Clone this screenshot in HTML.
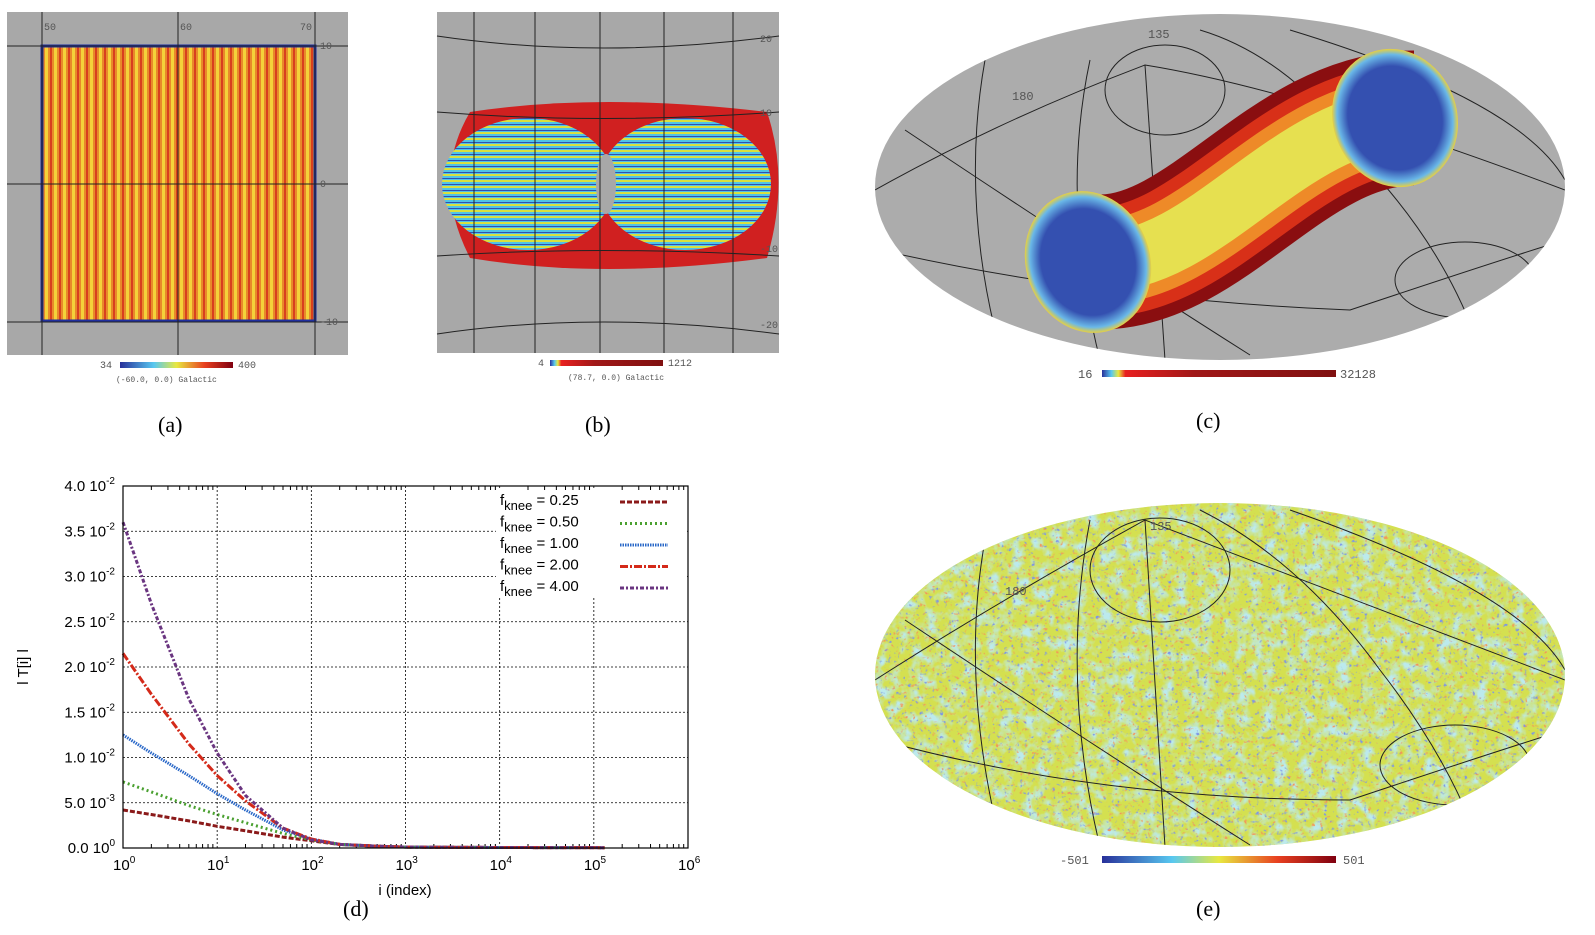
<!DOCTYPE html>
<html><head><meta charset="utf-8"><style>
body{margin:0;background:#fff;}
svg{display:block;font-family:"Liberation Sans",sans-serif;}
.cap{font-family:"Liberation Serif",serif;font-size:22px;}
.grat{fill:none;stroke:#222;stroke-width:1;}
.tick{font-family:"Liberation Mono",monospace;font-size:10px;fill:#555;}
</style></head><body>
<svg width="1595" height="935" viewBox="0 0 1595 935">
<defs>
 <pattern id="stripesA" width="9" height="9" patternUnits="userSpaceOnUse">
  <rect width="9" height="9" fill="#e88a2a"/>
  <rect x="0" width="3" height="9" fill="#f4d23a"/>
  <rect x="5" width="2" height="9" fill="#d8401e"/>
 </pattern>
 <pattern id="stripesB" width="10" height="6" patternUnits="userSpaceOnUse">
  <rect width="10" height="6" fill="#4fc3e8"/>
  <rect y="0" width="10" height="2" fill="#d8e040"/>
  <rect y="4" width="10" height="1" fill="#3050b0"/>
 </pattern>
 <linearGradient id="jet" x1="0" x2="1">
  <stop offset="0" stop-color="#28309a"/><stop offset="0.3" stop-color="#58c8f0"/>
  <stop offset="0.5" stop-color="#e8e840"/><stop offset="0.75" stop-color="#e84020"/>
  <stop offset="1" stop-color="#800010"/>
 </linearGradient>
 <linearGradient id="jetB" x1="0" x2="1">
  <stop offset="0" stop-color="#28309a"/><stop offset="0.04" stop-color="#58c8f0"/>
  <stop offset="0.07" stop-color="#e8e840"/><stop offset="0.1" stop-color="#e82020"/>
  <stop offset="0.4" stop-color="#a01818"/><stop offset="1" stop-color="#801010"/>
 </linearGradient>
 <radialGradient id="capG" cx="0.5" cy="0.5" r="0.5">
  <stop offset="0.75" stop-color="#3450b0"/><stop offset="0.92" stop-color="#6ab8e8"/><stop offset="1" stop-color="#e8d040"/>
 </radialGradient>
 <clipPath id="clipC"><ellipse cx="1220" cy="187" rx="345" ry="173"/></clipPath>
 <clipPath id="clipE"><ellipse cx="1220" cy="675" rx="345" ry="172"/></clipPath>
 <filter id="nCyan" x="0" y="0" width="100%" height="100%">
  <feTurbulence type="fractalNoise" baseFrequency="0.08" numOctaves="3" seed="3"/>
  <feColorMatrix type="matrix" values="0 0 0 0 0.5  0 0 0 0 0.82  0 0 0 0 0.85  3 0 0 0 -1.3"/>
 </filter>
 <filter id="nRed" x="0" y="0" width="100%" height="100%">
  <feTurbulence type="fractalNoise" baseFrequency="0.25" numOctaves="2" seed="5"/>
  <feColorMatrix type="matrix" values="0 0 0 0 0.9  0 0 0 0 0.3  0 0 0 0 0.1  5 0 0 0 -3.2"/>
 </filter>
 <filter id="nBlue" x="0" y="0" width="100%" height="100%">
  <feTurbulence type="fractalNoise" baseFrequency="0.25" numOctaves="2" seed="11"/>
  <feColorMatrix type="matrix" values="0 0 0 0 0.2  0 0 0 0 0.3  0 0 0 0 0.8  5 0 0 0 -3.2"/>
 </filter>
</defs>

<!-- Panel a -->
<g>
 <rect x="7" y="12" width="341" height="343" fill="#a8a8a8"/>
 <rect x="42" y="46" width="273" height="275" fill="url(#stripesA)" stroke="#2030a0" stroke-width="3"/>
 <line class="grat" x1="42" y1="12" x2="42" y2="355"/><line class="grat" x1="178" y1="12" x2="178" y2="355"/><line class="grat" x1="315" y1="12" x2="315" y2="355"/>
 <line class="grat" x1="7" y1="46" x2="348" y2="46"/><line class="grat" x1="7" y1="184" x2="348" y2="184"/><line class="grat" x1="7" y1="322" x2="348" y2="322"/>
 <text class="tick" x="320" y="49">10</text><text class="tick" x="320" y="187">0</text><text class="tick" x="320" y="325">-10</text>
 <text class="tick" x="44" y="30">50</text><text class="tick" x="180" y="30">60</text><text class="tick" x="300" y="30">70</text>
 <rect x="120" y="362" width="113" height="6" fill="url(#jet)"/>
 <text class="tick" x="100" y="368">34</text><text class="tick" x="238" y="368">400</text>
 <text class="tick" x="116" y="382" style="font-size:8px">(-60.0, 0.0) Galactic</text>
 <text class="cap" x="158" y="432">(a)</text>
</g>

<!-- Panel b -->
<g>
 <rect x="437" y="12" width="342" height="341" fill="#a8a8a8"/>
 <path d="M470,112 Q600,92 767,112 Q790,180 767,258 Q600,280 470,258 Q430,180 470,112Z" fill="#d02020"/>
 <ellipse cx="528" cy="184" rx="86" ry="66" fill="url(#stripesB)"/>
 <ellipse cx="685" cy="184" rx="86" ry="66" fill="url(#stripesB)"/>
 <ellipse cx="606" cy="184" rx="10" ry="30" fill="#a8a8a8"/>
 <path class="grat" d="M437,36 Q600,60 779,36"/><path class="grat" d="M437,112 Q600,125 779,112"/>
 <path class="grat" d="M437,256 Q600,245 779,256"/><path class="grat" d="M437,334 Q600,310 779,334"/>
 <line class="grat" x1="474" y1="12" x2="474" y2="353"/><line class="grat" x1="535" y1="12" x2="535" y2="353"/><line class="grat" x1="600" y1="12" x2="600" y2="353"/><line class="grat" x1="664" y1="12" x2="664" y2="353"/><line class="grat" x1="733" y1="12" x2="733" y2="353"/>
 <text class="tick" x="760" y="42">20</text><text class="tick" x="760" y="116">10</text><text class="tick" x="760" y="252">-10</text><text class="tick" x="760" y="328">-20</text>
 <rect x="550" y="360" width="113" height="6" fill="url(#jetB)"/>
 <text class="tick" x="538" y="366">4</text><text class="tick" x="668" y="366">1212</text>
 <text class="tick" x="568" y="380" style="font-size:8px">(78.7, 0.0) Galactic</text>
 <text class="cap" x="585" y="432">(b)</text>
</g>

<!-- Panel c -->
<g>
 <ellipse cx="1220" cy="187" rx="345" ry="173" fill="#acacac"/>
 <g clip-path="url(#clipC)">
  <path class="grat" d="M875,190 Q1000,120 1145,65 Q1300,90 1565,190"/>
  <path class="grat" d="M905,130 Q1100,260 1250,355"/>
  <path class="grat" d="M1145,65 L1165,360"/>
  <path class="grat" d="M985,60 Q960,200 1000,350"/>
  <path class="grat" d="M1090,60 Q1060,200 1100,360"/>
  <ellipse class="grat" cx="1165" cy="90" rx="60" ry="45"/>
  <path class="grat" d="M1200,30 Q1300,60 1380,180 Q1450,260 1480,350"/>
  <path class="grat" d="M1290,30 Q1520,100 1565,180"/>
  <ellipse class="grat" cx="1465" cy="280" rx="70" ry="38"/>
  <path class="grat" d="M880,250 Q1100,300 1350,310 Q1500,260 1565,240"/>
 </g>
 <text class="tick" x="1012" y="100" style="font-size:12px">180</text><text class="tick" x="1148" y="38" style="font-size:12px">135</text>
 <g>
  <path d="M1102,262 C1210,260 1290,118 1414,118" fill="none" stroke="#8a0e10" stroke-width="135"/>
  <path d="M1102,262 C1210,260 1290,118 1414,118" fill="none" stroke="#d83018" stroke-width="110"/>
  <path d="M1102,262 C1210,260 1290,118 1414,118" fill="none" stroke="#ee8a28" stroke-width="85"/>
  <path d="M1102,262 C1210,260 1290,118 1414,118" fill="none" stroke="#e6e050" stroke-width="60"/>
  <ellipse cx="1088" cy="262" rx="62" ry="72" fill="url(#capG)" transform="rotate(-20 1088 262)"/>
  <ellipse cx="1395" cy="118" rx="62" ry="70" fill="url(#capG)" transform="rotate(-20 1395 118)"/>
 </g>
 <rect x="1102" y="370" width="234" height="7" fill="url(#jetB)"/>
 <text class="tick" x="1078" y="378" style="font-size:12px">16</text><text class="tick" x="1340" y="378" style="font-size:12px">32128</text>
 <text class="cap" x="1196" y="428">(c)</text>
</g>

<!-- Panel e -->
<g>
 <ellipse cx="1220" cy="675" rx="345" ry="172" fill="#d4e050"/>
 <g clip-path="url(#clipE)">
  <rect x="875" y="503" width="690" height="344" filter="url(#nCyan)"/>
  <rect x="875" y="503" width="690" height="344" filter="url(#nRed)"/>
  <rect x="875" y="503" width="690" height="344" filter="url(#nBlue)"/>
  <path class="grat" d="M875,680 Q1000,600 1145,520 Q1300,580 1565,680"/>
  <path class="grat" d="M905,620 Q1100,750 1250,845"/>
  <path class="grat" d="M1145,520 L1165,847"/>
  <path class="grat" d="M985,540 Q960,680 1000,840"/>
  <path class="grat" d="M1090,520 Q1060,680 1100,847"/>
  <ellipse class="grat" cx="1160" cy="570" rx="70" ry="52"/>
  <path class="grat" d="M1200,510 Q1300,560 1380,670 Q1450,760 1480,847"/>
  <path class="grat" d="M1290,510 Q1520,590 1565,670"/>
  <ellipse class="grat" cx="1455" cy="765" rx="75" ry="40"/>
  <path class="grat" d="M880,740 Q1100,800 1350,800 Q1500,750 1565,730"/>
 </g>
 <text class="tick" x="1005" y="595" style="font-size:12px">180</text><text class="tick" x="1150" y="530" style="font-size:12px">135</text>
 <rect x="1102" y="856" width="234" height="7" fill="url(#jet)"/>
 <text class="tick" x="1060" y="864" style="font-size:12px">-501</text><text class="tick" x="1343" y="864" style="font-size:12px">501</text>
 <text class="cap" x="1196" y="916">(e)</text>
</g>

<!-- Panel d chart -->
<g id="chartD"></g>
<text class="cap" x="343" y="916">(d)</text>
</svg>
<script>
const xIndex = [1, 2, 5, 10, 20, 50, 100, 200, 500, 1000, 10000, 130000];
const seriesF025 = [0.0042, 0.0037, 0.0030, 0.0024, 0.0019, 0.0012, 0.0008, 0.0004, 0.0002, 0.0001, 0.00005, 0.00003];
const seriesF050 = [0.0073, 0.0062, 0.0047, 0.0037, 0.0028, 0.0016, 0.0009, 0.0004, 0.0002, 0.0001, 0.00005, 0.00003];
const seriesF100 = [0.0125, 0.0105, 0.0080, 0.0060, 0.0042, 0.0020, 0.0010, 0.0004, 0.0002, 0.0001, 0.00005, 0.00003];
const seriesF200 = [0.0215, 0.0170, 0.0115, 0.0080, 0.0052, 0.0022, 0.0010, 0.0004, 0.0002, 0.0001, 0.00005, 0.00003];
const seriesF400 = [0.0360, 0.0270, 0.0165, 0.0105, 0.0058, 0.0022, 0.0009, 0.0004, 0.0002, 0.0001, 0.00005, 0.00003];
const legendLabels = ["0.25", "0.50", "1.00", "2.00", "4.00"];
const yTickMant = ["0.0", "5.0", "1.0", "1.5", "2.0", "2.5", "3.0", "3.5", "4.0"];
const yTickExp = ["0", "-3", "-2", "-2", "-2", "-2", "-2", "-2", "-2"];
const yTickVals = [0, 0.005, 0.01, 0.015, 0.02, 0.025, 0.03, 0.035, 0.04];
const xTickExp = [0, 1, 2, 3, 4, 5, 6];

const NS = "http://www.w3.org/2000/svg";
const g = document.getElementById('chartD');
const L = 123, R = 688, T = 486, B = 848;
const xs = v => L + (Math.log10(v) - 0) / 6 * (R - L);
const ys = v => B - v / 0.04 * (B - T);
function mk(tag, attrs, parent) {
  const e = document.createElementNS(NS, tag);
  for (const k in attrs) e.setAttribute(k, attrs[k]);
  (parent || g).appendChild(e);
  return e;
}
xTickExp.forEach(p => {
  const x = xs(Math.pow(10, p));
  if (p > 0 && p < 6) {
    const l = mk('line', {x1: x, x2: x, y1: T, y2: B, stroke: '#000', 'stroke-width': 0.8, 'stroke-dasharray': '2,2'});
    
    
  }
  for (let m = 2; m < 10 && p < 6; m++) {
    const xm = xs(m * Math.pow(10, p));
    mk('line', {x1: xm, x2: xm, y1: B, y2: B - 4, stroke: '#000'});
    mk('line', {x1: xm, x2: xm, y1: T, y2: T + 4, stroke: '#000'});
  }
  const t = mk('text', {x: x - 10, y: B + 22, 'font-size': 15});
  
  
  t.textContent = '10';
  const s = mk('tspan', {dy: -7, 'font-size': 10}, t);
  s.textContent = p;
});
yTickVals.forEach((v, i) => {
  const y = ys(v);
  if (i > 0 && i < yTickVals.length - 1) {
    const l = mk('line', {x1: L, x2: R, y1: y, y2: y, stroke: '#000', 'stroke-width': 0.8, 'stroke-dasharray': '2,2'});
    
    
  }
  const t = mk('text', {x: L - 8, y: y + 5, 'font-size': 15, 'text-anchor': 'end'});
  
  
  t.textContent = yTickMant[i] + ' 10';
  const s = mk('tspan', {dy: -7, 'font-size': 10}, t);
  s.textContent = yTickExp[i];
  const s2 = mk('tspan', {dy: 7, 'font-size': 10}, t);
  s2.textContent = ' ';
});
const lb = mk('rect', {x: 496, y: 490, width: 191, height: 108, fill: '#fff'});


const series = [seriesF025, seriesF050, seriesF100, seriesF200, seriesF400];
const colors = ['#8b1a1a', '#4aa030', '#2a68c8', '#d42a1a', '#6a3580'];
const dashes = ['5,2', '2,3', '1.5,1', '8,2,2,2', '4,2,2,2'];
series.forEach((arr, si) => {
  const d = arr.map((v, i) => (i ? 'L' : 'M') + xs(xIndex[i]).toFixed(1) + ',' + ys(v).toFixed(1)).join(' ');
  const p = mk('path', {d: d, fill: 'none', stroke: colors[si], 'stroke-width': 3, 'stroke-dasharray': dashes[si]});
  
  
  const ly = 505 + si * 21.5;
  const t = mk('text', {x: 500, y: ly, 'font-size': 15});
  
  
  t.textContent = 'f';
  const s = mk('tspan', {dy: 5, 'font-size': 13}, t);
  s.textContent = 'knee';
  const s2 = mk('tspan', {dy: -5}, t);
  s2.textContent = ' = ' + legendLabels[si];
  const ls = mk('line', {x1: 620, x2: 668, y1: ly - 3, y2: ly - 3, stroke: colors[si], 'stroke-width': 3, 'stroke-dasharray': dashes[si]});
  
  
});
const fr = mk('rect', {x: L, y: T, width: R - L, height: B - T, fill: 'none', stroke: '#000', 'stroke-width': 1.2});


const xt = mk('text', {x: 405, y: 895, 'font-size': 15, 'text-anchor': 'middle'});


xt.textContent = 'i (index)';
const yt = mk('text', {x: 28, y: 667, 'font-size': 15, 'text-anchor': 'middle', transform: 'rotate(-90 28 667)'});


yt.textContent = 'l T[i] l';
</script>
</body></html>
